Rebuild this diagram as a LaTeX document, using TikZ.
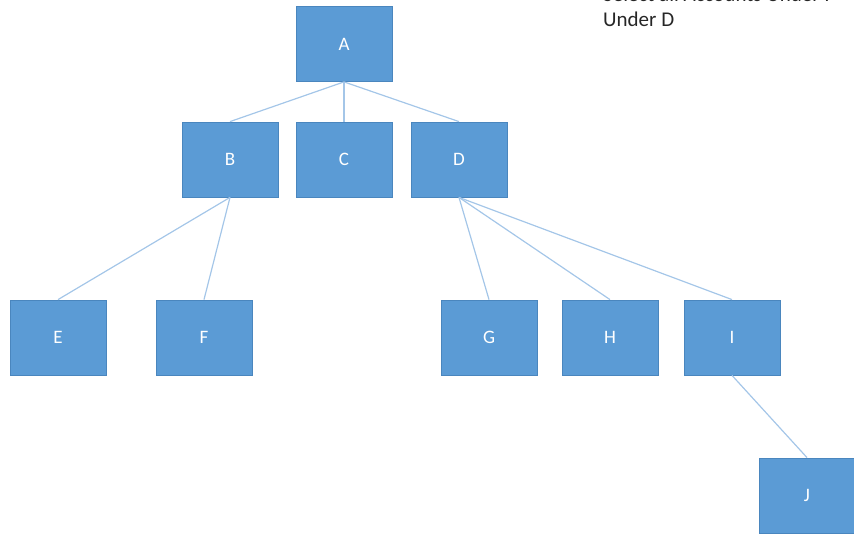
\documentclass[tikz,border=0pt]{standalone}
\usepackage{fontspec}
\setmainfont{Carlito}
\definecolor{boxfill}{HTML}{5B9BD5}
\definecolor{boxline}{HTML}{4A86BE}
\definecolor{linkcol}{HTML}{A4C6E8}
\begin{document}
\begin{tikzpicture}[x=1pt,y=-1pt,
  orgbox/.style={draw=boxline,line width=0.8pt,fill=boxfill,minimum width=96pt,minimum height=75pt,inner sep=0pt,text=white,font=\fontsize{19}{22}\selectfont},
  link/.style={draw=linkcol,line width=1.2pt},
  note/.style={anchor=base west,inner sep=0pt,text=black!85,font=\fontsize{21}{24}\selectfont}]
\useasboundingbox (0,0) rectangle (854,535);
\node[orgbox] (A) at (344,44) {A};
\node[orgbox] (B) at (230,159.5) {B};
\node[orgbox] (C) at (344,159.5) {C};
\node[orgbox] (D) at (459,159.5) {D};
\node[orgbox] (E) at (58,337.5) {E};
\node[orgbox] (F) at (204,337.5) {F};
\node[orgbox] (G) at (489,337.5) {G};
\node[orgbox] (H) at (610,337.5) {H};
\node[orgbox] (I) at (732,337.5) {I};
\node[orgbox] (J) at (807,495.5) {J};
\draw[link] (A.south) -- (B.north);
\draw[link] (A.south) -- (C.north);
\draw[link] (A.south) -- (D.north);
\draw[link] (B.south) -- (E.north);
\draw[link] (B.south) -- (F.north);
\draw[link] (D.south) -- (G.north);
\draw[link] (D.south) -- (H.north);
\draw[link] (D.south) -- (I.north);
\draw[link] (I.south) -- (J.north);
\node[note] (n1) at (603,1.5) {Select all Accounts Under I};
\node[note] (n2) at (603,27) {Under D};
\end{tikzpicture}
\end{document}
